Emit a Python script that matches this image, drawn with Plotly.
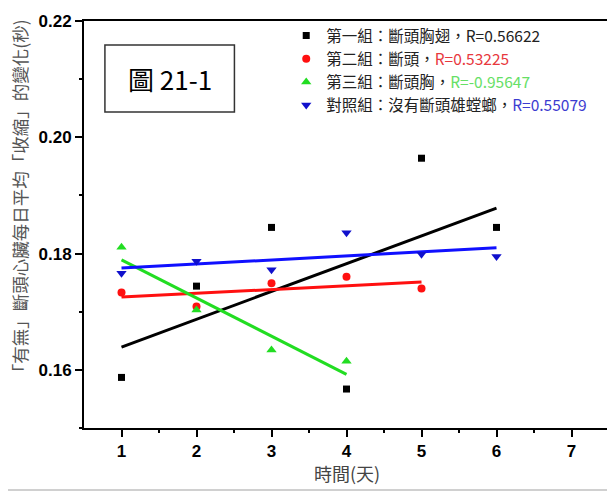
import numpy as np
import plotly.graph_objects as go

# ---- data ----
days_g1 = [1, 2, 3, 4, 5, 6]
vals_g1 = [0.1587, 0.1744, 0.1845, 0.1567, 0.1964, 0.1845]

days_g2 = [1, 2, 3, 4, 5]
vals_g2 = [0.1733, 0.1709, 0.1749, 0.1760, 0.1740]

days_g3 = [1, 2, 3, 4]
vals_g3 = [0.1811, 0.1703, 0.1634, 0.1615]

days_ctrl = [1, 2, 3, 4, 5, 6]
vals_ctrl = [0.1766, 0.1787, 0.1772, 0.1836, 0.1799, 0.1795]

names = [
    "第一組：斷頭胸翅，R=0.56622",
    "第二組：斷頭，<span style='color:#e8383d'>R=0.53225</span>",
    "第三組：斷頭胸，<span style='color:#66e066'>R=-0.95647</span>",
    "對照組：沒有斷頭雄螳螂，<span style='color:#3c3cd0'>R=0.55079</span>",
]
x_ticks = [1, 2, 3, 4, 5, 6, 7]
y_ticks = [0.16, 0.18, 0.20, 0.22]
y_ticklabels = ["0.16", "0.18", "0.20", "0.22"]

x_title = "時間(天)"
y_title = "「有無」斷頭心臟每日平均「收縮」的變化(秒)"
fig_label = "圖 21-1"

# ---- styles ----
series = [
    (days_g1, vals_g1, names[0], "#000000", "#000000", "square", 7),
    (days_g2, vals_g2, names[1], "#ff1010", "#ff1010", "circle", 8),
    (days_g3, vals_g3, names[2], "#22dd22", "#22dd22", "triangle-up", 9),
    (days_ctrl, vals_ctrl, names[3], "#1010cc", "#1010ff", "triangle-down", 9),
]

fig = go.Figure()

# regression lines (computed from the data)
for xs, ys, nm, mcol, lcol, sym, sz in series:
    k, b = np.polyfit(xs, ys, 1)
    xe = np.array([min(xs), max(xs)], dtype=float)
    fig.add_trace(go.Scatter(x=xe, y=k * xe + b, mode="lines",
                             line=dict(color=lcol, width=3),
                             showlegend=False, hoverinfo="skip"))

for xs, ys, nm, mcol, lcol, sym, sz in series:
    fig.add_trace(go.Scatter(x=xs, y=ys, mode="markers", name=nm,
                             marker=dict(color=mcol, symbol=sym, size=sz)))

tickfont = dict(family="Liberation Sans", size=17, color="black", weight="bold")

# page body has an 8px margin; plot area target: x 84..611, y 21..428
PW, PH = 527, 407
fig.update_layout(
    width=607, height=485,
    margin=dict(l=76, r=4, t=13, b=65),
    paper_bgcolor="white", plot_bgcolor="white",
    legend=dict(x=(287 - 84) / PW, y=(428 - 19) / PH, xanchor="left", yanchor="top",
                bgcolor="rgba(255,255,255,0)",
                font=dict(family="Noto Sans CJK TC", size=15.5, color="#222"),
                itemsizing="trace", tracegroupgap=0),
    xaxis=dict(range=[0.5, 7.5], tickvals=x_ticks, ticks="outside", ticklen=7,
               tickwidth=2, tickcolor="black", showgrid=False, zeroline=False,
               showline=True, linewidth=2, linecolor="black", mirror=True,
               tickfont=tickfont,
               minor=dict(tickvals=[1.5, 2.5, 3.5, 4.5, 5.5, 6.5], ticks="outside",
                          ticklen=3, tickwidth=2, tickcolor="black")),
    yaxis=dict(range=[0.15, 0.22], tickvals=y_ticks, ticktext=y_ticklabels,
               ticks="outside", ticklen=7, tickwidth=2, tickcolor="black",
               showgrid=False, zeroline=False,
               showline=True, linewidth=2, linecolor="black", mirror=True,
               tickfont=tickfont,
               minor=dict(tickvals=[0.15, 0.17, 0.19, 0.21], ticks="outside",
                          ticklen=3, tickwidth=2, tickcolor="black")),
    showlegend=True,
)

# axis titles
fig.add_annotation(text=y_title, xref="paper", yref="paper",
                   x=(19 - 84) / PW, y=(428 - 200) / PH, xanchor="center", yanchor="middle",
                   textangle=-90, showarrow=False,
                   font=dict(family="Noto Sans CJK TC", size=17.5, color="#555"))
fig.add_annotation(text=x_title, xref="paper", yref="paper",
                   x=(348 - 84) / PW, y=-(473 - 428) / PH, xanchor="center", yanchor="middle",
                   showarrow=False,
                   font=dict(family="Noto Sans CJK TC", size=18, color="#444"))

# figure label box
fig.add_shape(type="rect", xref="paper", yref="paper",
              x0=(105 - 84) / PW, x1=(235 - 84) / PW,
              y0=(428 - 112) / PH, y1=(428 - 45) / PH,
              line=dict(color="#333", width=1.5), fillcolor="white")
fig.add_annotation(text=fig_label, xref="paper", yref="paper",
                   x=(170 - 84) / PW, y=(428 - 78) / PH,
                   xanchor="center", yanchor="middle", showarrow=False,
                   font=dict(family="Noto Sans CJK TC", size=26, color="black"))

# light separator line near the bottom of the image
fig.add_shape(type="line", xref="paper", yref="paper",
              x0=-84 / PW, x1=(615 - 84) / PW,
              y0=-(490 - 428) / PH, y1=-(490 - 428) / PH,
              line=dict(color="#d0d0d0", width=2))

fig.write_html("out.html")
